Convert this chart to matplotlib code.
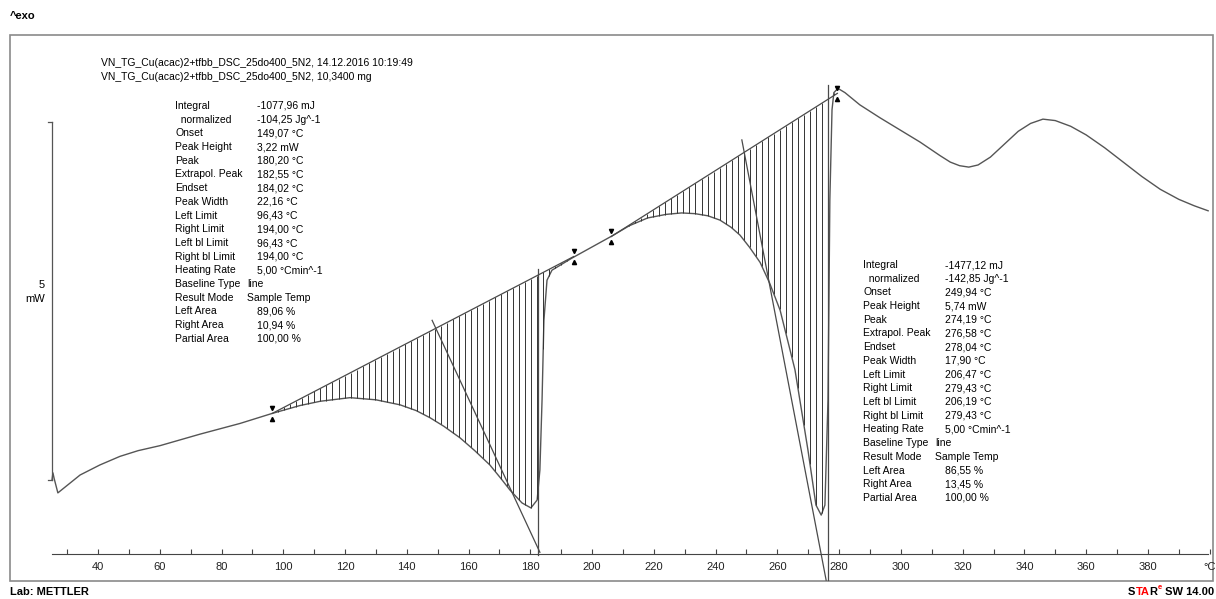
import numpy as np
import matplotlib.pyplot as plt
from matplotlib import transforms
from matplotlib.patches import Rectangle

plt.rcParams['font.family'] = ['Liberation Sans', 'DejaVu Sans']

# DSC curve, sample temperature (degC) vs heat flow (mW, offset arbitrary)
temp = [25.1, 25.4, 25.8, 27.0, 29.3, 34.2, 40.6, 47.1, 53.0, 60.1, 73.0, 86.0, 96.4,
        105.4, 112.0, 121.6, 130.0, 137.8, 143.0, 147.5, 152.0, 157.2, 162.0,
        166.9, 170.5, 173.4, 177.3, 180.2,
        182.2, 183.1, 183.8, 184.4, 185.4, 187.0, 193.5, 206.5,
        212.0, 218.0, 224.0, 229.0, 233.3, 237.5, 241.4, 245.0, 247.9, 251.0,
        254.4, 257.5, 260.9, 265.7, 269.9, 272.5,
        274.2, 275.4, 276.4, 277.0, 277.7, 278.3, 279.6, 281.9, 286.7, 293.2,
        299.7, 306.2, 312.7, 316.0, 319.0, 322.0, 325.0, 329.0, 333.0, 338.0,
        342.0, 346.0, 350.0, 355.0, 360.0, 366.0, 372.0, 378.0, 384.0, 390.0,
        395.0, 399.5]
heat_flow = [0.0, 0.10, 0.02, -0.18, -0.10, 0.07, 0.21, 0.33, 0.41, 0.48, 0.64, 0.79, 0.93,
             1.04, 1.10, 1.15, 1.12, 1.05, 0.97, 0.87, 0.75, 0.59, 0.41,
             0.21, 0.02, -0.14, -0.32, -0.39,
             -0.28, 0.14, 1.12, 2.23, 2.79, 2.93, 3.10, 3.41,
             3.55, 3.66, 3.71, 3.73, 3.72, 3.69, 3.63, 3.53, 3.42, 3.25,
             3.04, 2.75, 2.37, 1.54, 0.42, -0.35,
             -0.49, -0.35, 1.12, 3.91, 5.17, 5.41, 5.47, 5.41, 5.24, 5.06,
             4.89, 4.72, 4.53, 4.44, 4.39, 4.37, 4.40, 4.51, 4.67, 4.87,
             4.98, 5.04, 5.02, 4.94, 4.82, 4.64, 4.44, 4.24, 4.06, 3.92,
             3.83, 3.76]

# evaluation 1
bl1_t = [96.43, 194.00]
bl1_y = [0.93, 3.12]
tan1_t = [148.2, 183.1]
tan1_y = [2.23, -1.01]
peak1_t = 182.55
peak1_y = [-1.05, 2.95]

# evaluation 2
bl2_t = [206.19, 279.43]
bl2_y = [3.40, 5.40]
tan2_t = [248.5, 275.8]
tan2_y = [4.75, -1.40]
peak2_t = 276.4
peak2_y = [-1.40, 5.52]

labels = ['Integral', '  normalized', 'Onset', 'Peak Height', 'Peak', 'Extrapol. Peak',
          'Endset', 'Peak Width', 'Left Limit', 'Right Limit', 'Left bl Limit',
          'Right bl Limit', 'Heating Rate', 'Baseline Type', 'Result Mode',
          'Left Area', 'Right Area', 'Partial Area']
values1 = ['-1077,96 mJ', '-104,25 Jg^-1', '149,07 °C', '3,22 mW', '180,20 °C',
           '182,55 °C', '184,02 °C', '22,16 °C', '96,43 °C', '194,00 °C', '96,43 °C',
           '194,00 °C', '5,00 °Cmin^-1', 'line', 'Sample Temp', '89,06 %',
           '10,94 %', '100,00 %']
values2 = ['-1477,12 mJ', '-142,85 Jg^-1', '249,94 °C', '5,74 mW', '274,19 °C',
           '276,58 °C', '278,04 °C', '17,90 °C', '206,47 °C', '279,43 °C', '206,19 °C',
           '279,43 °C', '5,00 °Cmin^-1', 'line', 'Sample Temp', '86,55 %',
           '13,45 %', '100,00 %']

xticks = list(range(40, 401, 20))
xticklabels = [str(t) for t in range(40, 381, 20)] + ['°C']

W, H = 1216, 599
fig = plt.figure(figsize=(W / 100, H / 100), dpi=100)
ax = fig.add_axes([0, 0, 1, 1])
ax.set_xlim(8.26, 402.05)
ax.set_ylim(-1.662, 6.704)


def px(x, y):
    return x / W, 1 - y / H


line_c = '#4a4a4a'
ax.plot(temp, heat_flow, color='#555555', lw=1.0)


def hatch(t0, t1, bt, by, step=1.95):
    ts = np.arange(t0 + step, t1, step)
    base = np.interp(ts, bt, by)
    cur = np.interp(ts, temp, heat_flow)
    ax.vlines(ts, cur, base, color='#333333', lw=0.7)


hatch(bl1_t[0], bl1_t[1], bl1_t, bl1_y)
hatch(bl2_t[0], bl2_t[1], bl2_t, bl2_y)
for bt, by, tt, ty, pt, py in [(bl1_t, bl1_y, tan1_t, tan1_y, peak1_t, peak1_y),
                               (bl2_t, bl2_y, tan2_t, tan2_y, peak2_t, peak2_y)]:
    ax.plot(bt, by, color=line_c, lw=0.9)
    ax.plot(tt, ty, color=line_c, lw=0.9)
    ax.plot([pt, pt], py, color=line_c, lw=0.9)
    up = ax.transData + transforms.ScaledTranslation(0, 4 / 72, fig.dpi_scale_trans)
    dn = ax.transData + transforms.ScaledTranslation(0, -4 / 72, fig.dpi_scale_trans)
    ax.plot(bt, by, 'v', ms=3, color='black', transform=up)
    ax.plot(bt, by, '^', ms=3, color='black', transform=dn)

# 5 mW scale bar
ax.plot([25.1, 25.1], [0, 5], color='#555555', lw=0.9)
ax.plot([23.8, 25.1], [5, 5], color='#555555', lw=0.9)
ax.plot([23.8, 25.1], [0, 0], color='#555555', lw=0.9)
ax.text(*px(45, 285), '5', transform=ax.transAxes, ha='right', va='center', fontsize=8)
ax.text(*px(45, 299), 'mW', transform=ax.transAxes, ha='right', va='center', fontsize=8)

# temperature axis
for s in ['left', 'right', 'top']:
    ax.spines[s].set_visible(False)
ax.spines['bottom'].set_position(('data', -1.034))
ax.spines['bottom'].set_bounds(25.1, 399.5)
ax.spines['bottom'].set_color('#444444')
ax.spines['bottom'].set_linewidth(0.8)
ax.set_xticks(xticks)
ax.set_xticklabels(xticklabels)
ax.set_xticks(range(30, 400, 20), minor=True)
ax.tick_params(axis='x', which='both', direction='in', length=3.5, width=0.8,
               color='#444444', labelsize=8, labelcolor='#222222', pad=6)
ax.set_yticks([])

ax.add_patch(Rectangle(px(10, 581), 1203 / W, 546 / H, transform=ax.transAxes,
                       fill=False, ec='#8a8a8a', lw=1.2))

ax.text(*px(10, 16), '^exo', transform=ax.transAxes, fontsize=8, weight='bold', va='center')
ax.text(*px(101, 66), 'VN_TG_Cu(acac)2+tfbb_DSC_25do400_5N2, 14.12.2016 10:19:49',
        transform=ax.transAxes, fontsize=7.5, va='baseline')
ax.text(*px(101, 80), 'VN_TG_Cu(acac)2+tfbb_DSC_25do400_5N2, 10,3400 mg',
        transform=ax.transAxes, fontsize=7.5, va='baseline')

for (lx, vx, y0, vals) in [(175, 257, 105, values1), (863, 945, 264, values2)]:
    for i, (lab, val) in enumerate(zip(labels, vals)):
        y = y0 + i * 13.7 + 4
        ax.text(*px(lx, y), lab, transform=ax.transAxes, fontsize=7.5, va='baseline')
        x = vx - 10 if val in ('line', 'Sample Temp') else vx
        ax.text(*px(x, y), val, transform=ax.transAxes, fontsize=7.5, va='baseline')

ax.text(*px(10, 595), 'Lab: METTLER', transform=ax.transAxes, fontsize=8,
        weight='bold', va='baseline')

# STARe SW 14.00, chained left to right
prev = ax.text(*px(1128, 595), 'S', transform=ax.transAxes, fontsize=8,
               weight='bold', va='baseline')
for txt, col, size, dy in [('TA', 'red', 8, 0), ('R', 'black', 8, 0),
                           ('e', 'red', 5.5, 4), (' SW 14.00', 'black', 8, -4)]:
    prev = ax.annotate(txt, xy=(1, 0), xycoords=prev, xytext=(0, dy),
                       textcoords='offset points' if dy else 'offset points',
                       fontsize=size, weight='bold', color=col, va='bottom')

fig.savefig('out.png', dpi=100)
